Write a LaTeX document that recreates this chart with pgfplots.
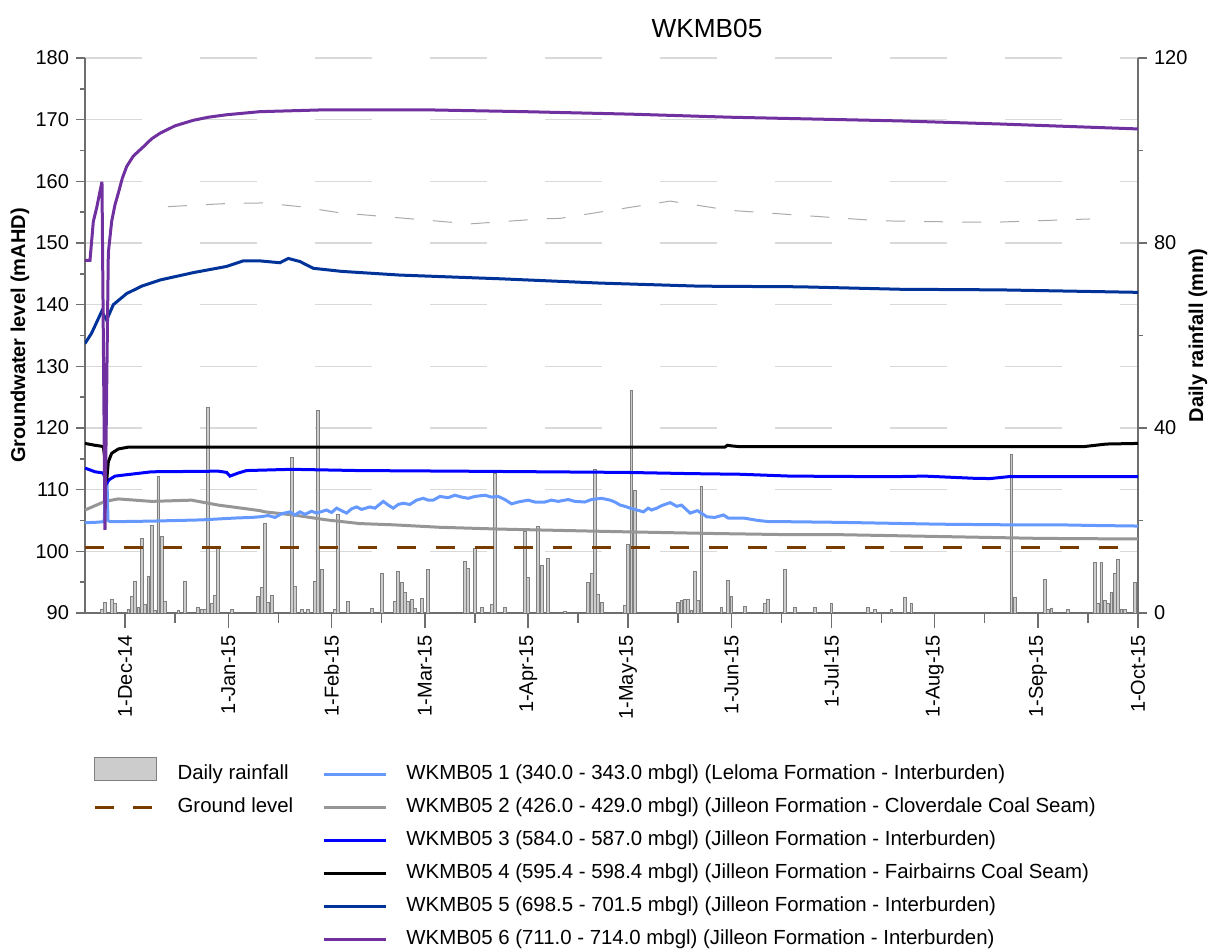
\documentclass[border=0pt]{standalone}
\usepackage{fontspec}
\setmainfont{Liberation Sans}
\usepackage{pgfplots}
\usepackage{pgfplotstable}
\pgfplotsset{compat=1.18}

\definecolor{lb}{RGB}{102,153,255}
\definecolor{sgray}{RGB}{150,150,150}
\definecolor{sblue}{RGB}{0,0,255}
\definecolor{dblue}{RGB}{0,51,153}
\definecolor{purp}{RGB}{112,48,160}
\definecolor{brownc}{RGB}{120,60,0}
\definecolor{barfill}{RGB}{204,204,204}
\definecolor{bargray}{RGB}{128,128,128}
\definecolor{gridgray}{RGB}{217,217,217}
\definecolor{axgray}{RGB}{110,110,110}
\definecolor{dgray}{RGB}{170,170,170}

\pgfplotstableread{
day mm
-7 0.8
-6 2.2
-4 3.0
-3 2.1
1 0.8
2 3.5
3 6.8
4 1.2
5 16.1
6 1.9
7 8.0
8 19.0
9 0.5
10 29.6
11 16.5
12 2.6
16 0.5
18 6.8
22 1.3
23 0.8
24 0.8
25 44.5
26 2.1
27 3.7
28 14.2
32 0.8
40 3.5
41 5.5
42 19.4
43 2.2
44 3.7
50 33.7
51 5.8
53 0.8
55 0.8
57 6.9
58 43.7
59 9.4
63 0.8
64 21.3
67 2.5
74 1.0
77 8.5
81 2.5
82 8.9
83 6.7
84 4.5
85 2.5
86 3.0
87 0.9
89 3.2
91 9.4
102 11.1
103 9.7
105 14.0
107 1.2
110 1.9
111 30.2
114 1.2
120 17.7
121 7.6
124 18.8
125 10.2
127 11.8
132 0.3
139 6.6
140 8.6
141 31.1
142 4.0
143 2.2
150 1.6
151 14.8
152 48.2
153 26.6
166 2.2
167 2.7
168 3.0
169 3.0
170 0.5
171 8.9
172 2.7
173 27.3
179 1.2
181 7.1
182 3.5
186 1.4
192 2.1
193 3.0
198 9.4
201 1.2
207 1.2
212 2.1
223 1.2
225 0.7
230 0.7
234 3.4
236 2.1
266 34.2
267 3.4
276 7.2
277 0.7
278 1.1
283 0.7
291 11.0
292 2.1
293 11.0
294 2.8
295 2.1
296 4.5
297 8.5
298 11.5
299 0.7
300 0.7
303 6.6
}\rain

\pgfplotsset{
  common/.style={
    at={(0pt,0pt)}, anchor=south west, scale only axis,
    width=526.5pt, height=277.5pt,
    xmin=-12, xmax=304,
    /pgf/number format/assume math mode=true,
    tick label style={font=\fontsize{10}{12}\selectfont, text=black},
    axis line style={draw=axgray, line width=0.7pt},
    tick style={draw=axgray, line width=0.7pt},
    tick align=outside,
  }
}

\begin{document}
\begin{tikzpicture}
\useasboundingbox (-42.5pt,-169.5pt) rectangle (562.5pt,306.5pt);

% Axis A: grid + left axis
\begin{axis}[common,
  ymin=90, ymax=180,
  axis x line=none, axis y line*=left,
  ytick={90,100,...,180}, minor ytick={95,105,...,175},
  major tick length=4.5pt, minor tick length=2.5pt,
  ymajorgrids, major grid style={draw=gridgray, line width=0.6pt, dash pattern=on 28.5pt off 29pt},
]
\end{axis}

% Axis B: rainfall bars + x axis
\begin{axis}[common,
  ymin=0, ymax=120,
  axis x line*=bottom, axis y line=none,
  xtick={0,31,62,90,121,151,182,212,243,274,304},
  xticklabels={1-Dec-14,1-Jan-15,1-Feb-15,1-Mar-15,1-Apr-15,1-May-15,1-Jun-15,1-Jul-15,1-Aug-15,1-Sep-15,1-Oct-15},
  minor xtick={15,46,77,105,136,166,197,227,258,289},
  major tick length=7.5pt, minor tick length=5pt,
  xticklabel style={rotate=90, anchor=east},
]
\addplot[ybar, bar width=1.4pt, fill=barfill, draw=bargray, line width=0.4pt] table[x=day, y=mm] {\rain};
\end{axis}

% Axis C: groundwater lines + right axis + legend
\begin{axis}[common,
  ymin=90, ymax=180,
  axis x line=none, axis y line*=right,
  ytick={90,120,150,180}, yticklabels={0,40,80,120},
  minor ytick={105,135,165},
  major tick length=4.5pt, minor tick length=2.5pt,
  legend columns=2,
  legend cell align=left,
  legend image code/.code={\draw[#1] (0pt,0pt) -- (31pt,0pt);},
  legend style={at={(axis description cs:0.008,-0.2595)}, anchor=north west,
    draw=none, fill=none, inner sep=0pt, outer sep=0pt,
    font=\fontsize{10.2}{12}\selectfont, row sep=6.5pt,
    nodes={inner sep=0pt, text height=7.5pt, text depth=2.5pt},
    /tikz/every odd column/.append style={column sep=9.6pt},
    /tikz/every even column/.append style={column sep=14.5pt}},
]
\addplot[forget plot, dgray, line width=0.5pt, dash pattern=on 9.5pt off 9.5pt] coordinates {
(12.9,155.9) (30.5,156.4) (41.5,156.5) (52.5,155.9) (64.5,154.9) (88.5,153.8) (103.5,153.1) (124.6,153.9) (130.6,154.0) (163.6,156.8) (181.6,155.3) (202.6,154.5) (226.6,153.6) (250.6,153.4) (262.6,153.4) (289.6,153.9)
};
\addplot[forget plot, brownc, line width=1.5pt, dash pattern=on 9.5pt off 10pt] coordinates {(-12,100.7) (304,100.7)};
\addplot[forget plot, sgray, line width=1.5pt] coordinates {
(-12,106.7) (-6,108.1) (-2,108.5) (8,108.1) (20,108.3) (28,107.5) (35,107.0) (40.5,106.6) (42,106.4) (50.5,105.9) (60.5,105.1) (70.5,104.5) (80.5,104.3) (94.5,103.9) (113,103.6) (147,103.2) (175.6,102.9) (199.6,102.7) (214.6,102.7) (244.6,102.4) (274.6,102.1) (304,102.0)
};
\addplot[forget plot, lb, line width=1.5pt] coordinates {
(-12,104.65) (-9,104.7) (-6.5,104.8) (-6.2,105.2) (-5.9,111.6) (-5.4,111.6) (-5.1,105.0) (-4.5,104.8) (8,104.9) (23,105.1) (33,105.4) (38,105.5) (40.5,105.6) (43,105.8) (45,105.5) (47,106.1) (49.5,106.4) (51,105.9) (52.5,106.4) (54,106.0) (56,106.5) (57.5,106.2) (60.5,106.7) (62,106.3) (63.5,107.0) (65,106.6) (66.5,106.2) (68,106.9) (69.5,107.2) (71,106.8) (73.5,107.2) (75,107.0) (77.5,108.1) (79,107.5) (80.5,107.0) (82,107.6) (83.5,107.8) (85.5,107.6) (87.5,108.3) (89.5,108.6) (91,108.3) (92.5,108.3) (94.5,108.9) (97,108.7) (99,109.1) (101,108.8) (103,108.6) (105,108.9) (108,109.1) (110,108.8) (112,108.9) (114,108.4) (116,107.7) (118,108.0) (121,108.3) (123,108.0) (126,108.0) (128,108.3) (130,108.1) (133,108.4) (135,108.1) (138,108.0) (140,108.4) (143,108.6) (145.6,108.3) (147,108.0) (148.6,107.5) (150,107.3) (151.6,107.0) (153,106.8) (155.6,106.4) (157,107.0) (158,106.7) (159.6,107.0) (161,107.4) (163.6,107.9) (165.6,107.3) (167,107.5) (169.6,106.2) (171.8,106.6) (174.6,105.6) (177,105.5) (179.6,105.9) (181,105.4) (185.6,105.4) (190,105.0) (193.6,104.8) (199.6,104.8) (214.6,104.7) (244.6,104.4) (265,104.3) (280,104.3) (290,104.2) (304,104.1)
};
\addplot[forget plot, sblue, line width=1.5pt] coordinates {
(-12,113.5) (-9,112.9) (-6.5,112.7) (-5.5,111.0) (-4.8,111.6) (-3,112.2) (8,112.9) (28,113.0) (30.5,112.8) (31.5,112.2) (34,112.7) (36.5,113.1) (50,113.3) (70,113.1) (100,113.0) (125,112.9) (150,112.8) (170,112.6) (184.6,112.5) (199.6,112.2) (229.6,112.1) (240,112.2) (254.6,111.85) (259.6,111.8) (265,112.1) (304,112.1)
};
\addplot[forget plot, black, line width=1.5pt] coordinates {
(-12,117.5) (-9,117.2) (-6.5,117.0) (-5.8,114) (-5.5,111.4) (-5.0,114.5) (-4.0,115.9) (-2,116.6) (1,116.9) (180,116.9) (180.8,117.2) (182,117.1) (184,117.0) (288,117.0) (294.5,117.4) (304,117.5)
};
\addplot[forget plot, dblue, line width=1.5pt] coordinates {
(-12,133.7) (-10,135.4) (-7,138.9) (-5.5,137.5) (-3.5,140) (0.5,141.8) (5,143.0) (10.5,144) (20.5,145.2) (30.5,146.2) (35.5,147.1) (40.5,147.1) (46.5,146.8) (49,147.5) (52.5,147.0) (56.5,145.9) (65,145.4) (82.5,144.8) (112.5,144.2) (142.6,143.5) (172.6,143.0) (202.6,142.9) (232.6,142.5) (262.6,142.4) (304,142.0)
};
\addplot[forget plot, purp, line width=1.5pt] coordinates {
(-12,147.2) (-10.5,147.2) (-9.5,153.5) (-8.5,155.7) (-7,159.7) (-6.9,159.7) (-6.0,103.5) (-5.0,148.4) (-4.0,153.5) (-3.0,156.2) (-2.0,158.1) (-0.8,160.5) (0.5,162.4) (2.5,164.1) (5.5,165.6) (8,166.9) (10.5,167.8) (15,169.0) (20.5,169.9) (25,170.4) (30.5,170.8) (40.5,171.3) (60,171.6) (90,171.6) (120,171.3) (151.6,170.9) (181.6,170.4) (232.6,169.8) (262.6,169.3) (304,168.5)
};

\addlegendimage{legend image code/.code={\draw[fill=barfill,draw=bargray,line width=0.5pt] (0pt,-3pt) rectangle (30.6pt,8.5pt);}}
\addlegendentry{Daily rainfall}
\addlegendimage{lb, line width=1.5pt}
\addlegendentry{WKMB05 1 (340.0 - 343.0 mbgl) (Leloma Formation - Interburden)}
\addlegendimage{brownc, line width=1.5pt, dash pattern=on 9.5pt off 9.5pt}
\addlegendentry{Ground level}
\addlegendimage{sgray, line width=1.5pt}
\addlegendentry{WKMB05 2 (426.0 - 429.0 mbgl) (Jilleon Formation - Cloverdale Coal Seam)}
\addlegendimage{empty legend}
\addlegendentry{}
\addlegendimage{sblue, line width=1.5pt}
\addlegendentry{WKMB05 3 (584.0 - 587.0 mbgl) (Jilleon Formation - Interburden)}
\addlegendimage{empty legend}
\addlegendentry{}
\addlegendimage{black, line width=1.5pt}
\addlegendentry{WKMB05 4 (595.4 - 598.4 mbgl) (Jilleon Formation - Fairbairns Coal Seam)}
\addlegendimage{empty legend}
\addlegendentry{}
\addlegendimage{dblue, line width=1.5pt}
\addlegendentry{WKMB05 5 (698.5 - 701.5 mbgl) (Jilleon Formation - Interburden)}
\addlegendimage{empty legend}
\addlegendentry{}
\addlegendimage{purp, line width=1.5pt}
\addlegendentry{WKMB05 6 (711.0 - 714.0 mbgl) (Jilleon Formation - Interburden)}
\end{axis}

\node[rotate=90, font=\bfseries\fontsize{10}{12}\selectfont] at (-32.5pt,138.75pt) {Groundwater level (mAHD)};
\node[rotate=90, font=\bfseries\fontsize{10}{12}\selectfont] at (556.5pt,138.75pt) {Daily rainfall (mm)};
\node[font=\fontsize{13.1}{16}\selectfont] at (311pt,292.5pt) {WKMB05};
\end{tikzpicture}
\end{document}
